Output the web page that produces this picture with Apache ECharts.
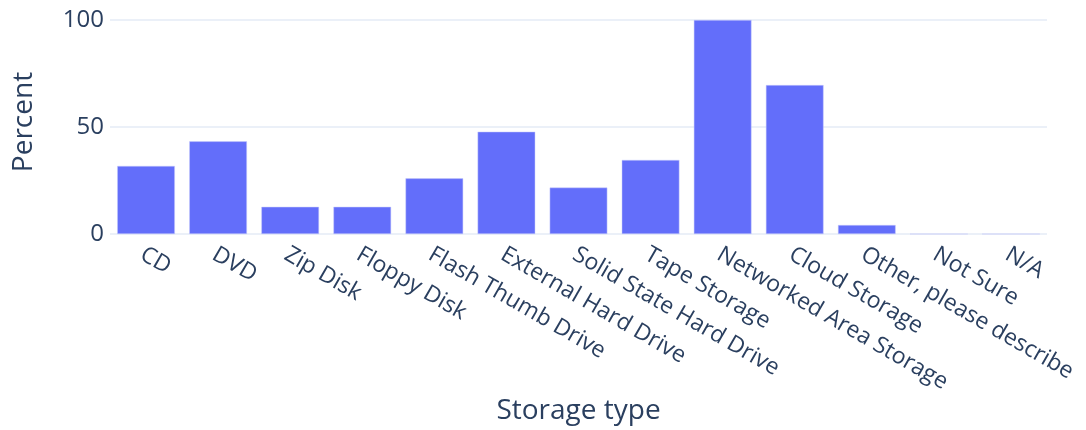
<!DOCTYPE html>
<html>
<head>
<meta charset="utf-8">
<script src="https://cdn.jsdelivr.net/npm/echarts@6/dist/echarts.min.js"></script>
<style>
  html, body { margin: 0; padding: 0; background: #fff; }
  #chart { width: 1086px; height: 430px; }
</style>
</head>
<body>
<div id="chart"></div>
<script>
// 存储类型
var categories = ['CD', 'DVD', 'Zip Disk', 'Floppy Disk', 'Flash Thumb Drive',
    'External Hard Drive', 'Solid State Hard Drive', 'Tape Storage',
    'Networked Area Storage', 'Cloud Storage', 'Other, please describe',
    'Not Sure', 'N/A'];
// 百分比
var percents = [31.8, 43.3, 12.7, 12.7, 26.0, 47.8, 21.7, 34.6, 100, 69.6, 4.2, 0, 0];
var yTicks = [0, 50, 100];

var textColor = '#2a3f5f';
var gridColor = '#ebf0f8';

var myChart = echarts.init(document.getElementById('chart'));
var option = {
    animation: false,
    textStyle: { fontFamily: 'Open Sans' },
    grid: { left: 110, right: 39, top: 20, bottom: 196, outerBoundsMode: 'none', containLabel: false },
    xAxis: {
        type: 'category',
        data: categories,
        name: 'Storage type',
        nameLocation: 'middle',
        nameGap: 163,
        nameTextStyle: { fontSize: 28, color: textColor, fontFamily: 'Open Sans' },
        axisLine: { show: false },
        axisTick: { show: false },
        axisLabel: {
            rotate: -30,
            interval: 0,
            margin: 12,
            verticalAlign: 'top',
            lineHeight: 16,
            fontSize: 23,
            color: textColor,
            fontFamily: 'Open Sans'
        }
    },
    yAxis: {
        type: 'value',
        min: yTicks[0],
        max: yTicks[yTicks.length - 1],
        interval: 50,
        name: 'Percent',
        nameLocation: 'middle',
        nameGap: 72,
        nameTextStyle: { fontSize: 28, color: textColor, fontFamily: 'Open Sans', padding: [0, 0, 0, 10] },
        axisLine: { show: false },
        axisTick: { show: false },
        axisLabel: { fontSize: 24, color: textColor, margin: 6, fontFamily: 'Open Sans' },
        splitLine: { lineStyle: { color: gridColor, width: 2 } }
    },
    series: [{
        type: 'bar',
        data: percents,
        barCategoryGap: '20%',
        itemStyle: { color: '#636efa', borderColor: '#c9ccfb', borderWidth: 0.5 }
    }]
};
myChart.setOption(option);
</script>
</body>
</html>
